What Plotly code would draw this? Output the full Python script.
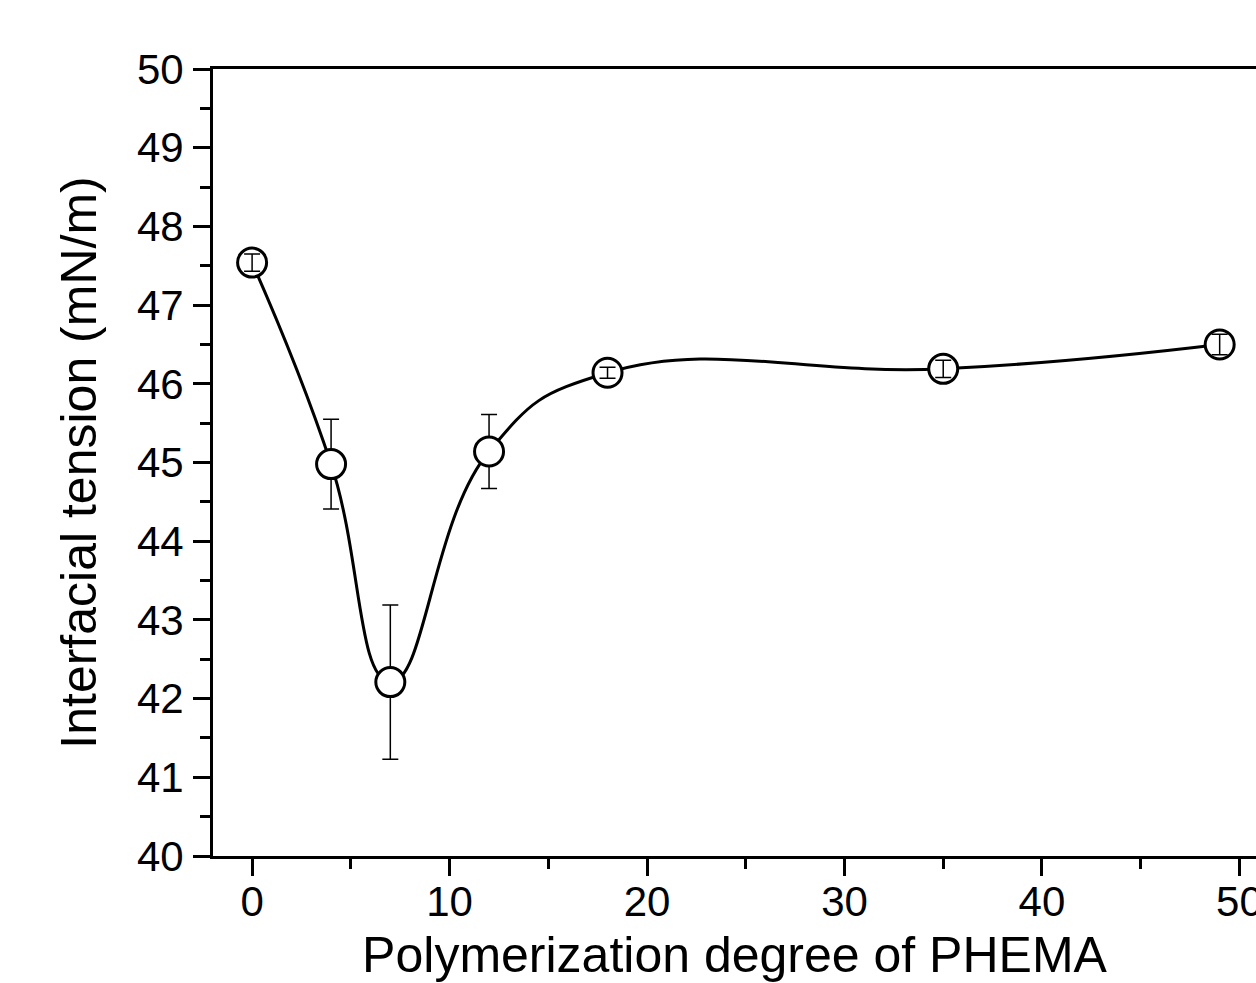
import plotly.graph_objects as go

# data
dp = [0, 4, 7, 12, 18, 35, 49]
tension = [47.54, 44.98, 42.21, 45.14, 46.14, 46.19, 46.50]
err = [0.11, 0.57, 0.98, 0.47, 0.07, 0.11, 0.13]
small_idx = [0, 4, 5, 6]

x_title = "Polymerization degree of PHEMA"
y_title = "Interfacial tension (mN/m)"

FONT = "Arial, Liberation Sans, sans-serif"

fig = go.Figure()
fig.add_trace(go.Scatter(x=dp, y=tension, mode="lines",
                         line=dict(shape="spline", smoothing=1.3, color="black", width=3),
                         hoverinfo="skip", showlegend=False))
fig.add_trace(go.Scatter(x=dp, y=tension, mode="markers",
                         marker=dict(symbol="circle", size=29, color="white",
                                     line=dict(color="black", width=3)),
                         error_y=dict(type="data", array=err, visible=True,
                                      color="black", thickness=1.5, width=8),
                         showlegend=False))
fig.add_trace(go.Scatter(x=[dp[i] for i in small_idx], y=[tension[i] for i in small_idx],
                         mode="markers", marker=dict(size=1, opacity=0),
                         error_y=dict(type="data", array=[err[i] for i in small_idx], visible=True,
                                      color="black", thickness=1.5, width=8),
                         showlegend=False))

fig.update_layout(
    width=1256, height=983,
    margin=dict(l=213, r=0, t=69, b=127),
    paper_bgcolor="white", plot_bgcolor="white",
    font=dict(family=FONT, color="black", size=42),
    xaxis=dict(range=[-1.98, 50.84], tickmode="array", tickvals=[0, 10, 20, 30, 40, 50],
               ticks="outside", ticklen=17, tickwidth=3, tickcolor="black",
               showline=True, linecolor="black", linewidth=3, mirror=True,
               showgrid=False, zeroline=False, automargin=False,
               tickfont=dict(size=42), ticklabelstandoff=-10, ticklabeloverflow="allow",
               minor=dict(tickvals=[5, 15, 25, 35, 45], ticks="outside", ticklen=10,
                          tickwidth=3, tickcolor="black", showgrid=False),
               title=dict(text=x_title, font=dict(size=50), standoff=26)),
    yaxis=dict(range=[40, 50], tickmode="array", tickvals=list(range(40, 51)),
               ticks="outside", ticklen=17, tickwidth=3, tickcolor="black",
               showline=True, linecolor="black", linewidth=3, mirror=False,
               showgrid=False, zeroline=False, automargin=False,
               tickfont=dict(size=42), ticklabelstandoff=1,
               minor=dict(tickvals=[40.5 + i for i in range(10)], ticks="outside", ticklen=10,
                          tickwidth=3, tickcolor="black", showgrid=False),
               title=dict(text=y_title, font=dict(size=50), standoff=25)),
)

fig.write_html("out.html")
